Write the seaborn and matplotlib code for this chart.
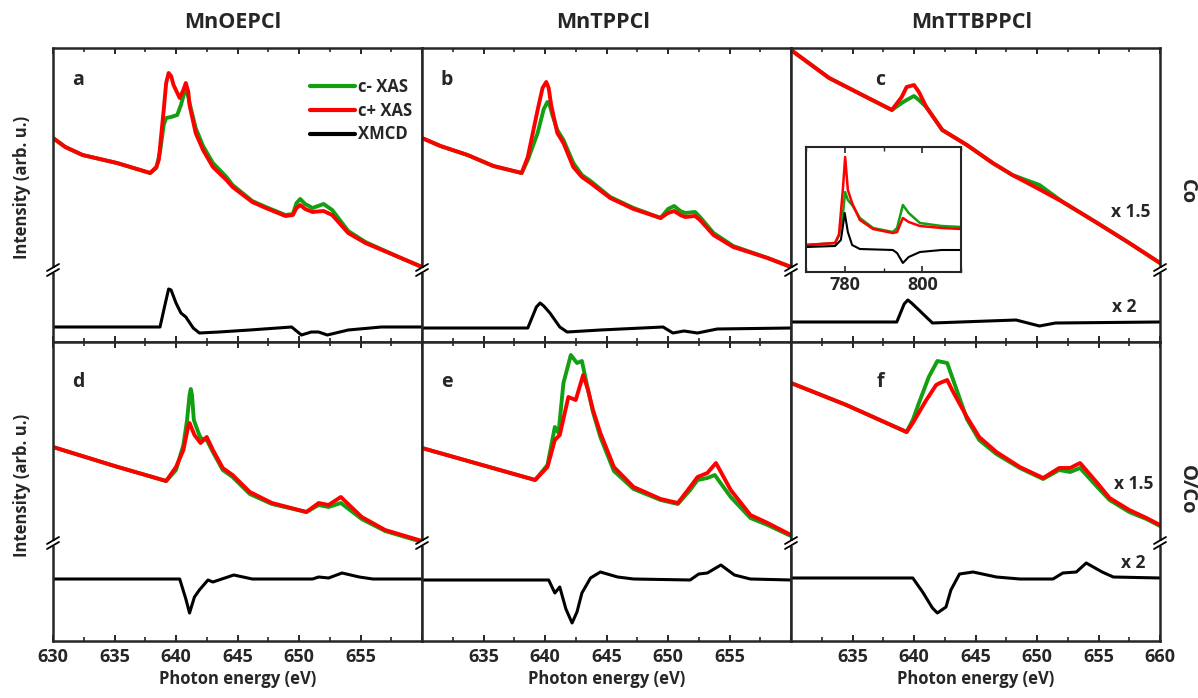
import numpy as np
import pandas as pd
import matplotlib
matplotlib.use("Agg")
import matplotlib.pyplot as plt
from matplotlib.ticker import MultipleLocator, FixedLocator
import seaborn as sns

sns.set_style("ticks")
plt.rcParams['font.family'] = ['Open Sans', 'DejaVu Sans']
plt.rcParams['font.weight'] = 'bold'

# ---------------- data (photon energy in eV, intensity in arb. u.) ----------------
columns = ["MnOEPCl", "MnTPPCl", "MnTTBPPCl"]
rows = ["Co", "O/Co"]
panel_letters = ["a", "b", "c", "d", "e", "f"]
legend_labels = ["c- XAS", "c+ XAS", "XMCD"]
tick_values = [630, 635, 640, 645, 650, 655, 660]

# panel a
a_green_e = [630.0, 631.0, 632.4, 635.2, 637.9, 638.4, 638.7, 639.0, 639.2, 639.6, 640.1, 640.4, 640.65, 640.8, 640.95, 641.1, 641.6, 642.2, 643.0, 644.1, 644.6, 646.2, 647.3, 648.9, 649.5, 649.8, 650.1, 650.5, 651.1, 652.0, 652.7, 654.0, 655.4, 658.1, 660.0]
a_green_i = [20.4, 19.5, 18.7, 17.9, 16.9, 17.4, 19.0, 21.7, 22.4, 22.5, 22.7, 23.7, 24.8, 25.2, 24.8, 23.9, 21.4, 19.6, 17.9, 16.5, 15.7, 14.1, 13.5, 12.7, 12.8, 13.9, 14.3, 13.8, 13.4, 13.8, 13.2, 11.1, 10.0, 8.5, 7.5]
a_red_e = [630.0, 631.0, 632.4, 635.2, 637.9, 638.4, 638.6, 639.0, 639.2, 639.4, 639.6, 639.8, 640.3, 640.6, 640.8, 641.0, 641.1, 641.6, 642.2, 643.0, 644.1, 644.6, 646.2, 647.3, 648.9, 649.5, 649.8, 650.1, 650.5, 651.1, 652.0, 652.7, 654.0, 655.4, 658.1, 660.0]
a_red_i = [20.4, 19.5, 18.7, 17.9, 16.9, 17.5, 18.2, 23.2, 25.9, 26.9, 26.6, 25.7, 24.4, 25.2, 25.9, 25.0, 23.7, 20.9, 19.2, 17.5, 16.2, 15.5, 14.0, 13.4, 12.6, 12.7, 13.4, 13.7, 13.3, 13.0, 13.1, 12.7, 10.9, 9.9, 8.5, 7.5]
a_xmcd_e = [630, 638.7, 639.1, 639.4, 639.6, 640.0, 640.4, 640.8, 641.4, 641.9, 643.5, 646.0, 649.4, 650.2, 651.0, 651.6, 652.3, 654.0, 656.7, 660]
a_xmcd_i = [1.5, 1.5, 3.7, 5.3, 5.2, 3.9, 2.9, 2.5, 1.4, 0.9, 1.0, 1.2, 1.5, 0.7, 1.0, 1.0, 0.7, 1.2, 1.5, 1.5]

# panel b
b_green_e = [630.0, 631.5, 633.7, 635.8, 638.1, 638.6, 639.4, 639.9, 640.2, 640.4, 640.6, 641.0, 641.5, 642.3, 643.0, 643.7, 645.3, 647.2, 649.4, 650.0, 650.5, 651.0, 651.4, 652.2, 652.6, 653.7, 655.3, 658.1, 660.0]
b_green_i = [20.4, 19.6, 18.7, 17.6, 16.9, 18.2, 20.9, 23.3, 24.0, 23.6, 22.7, 21.2, 20.2, 17.9, 16.7, 16.1, 14.5, 13.4, 12.4, 13.3, 13.6, 13.1, 12.9, 13.0, 12.5, 10.9, 9.6, 8.4, 7.5]
b_red_e = [630.0, 631.5, 633.7, 635.8, 638.1, 638.6, 639.4, 639.8, 640.1, 640.3, 640.5, 641.0, 641.5, 642.3, 643.0, 643.7, 645.3, 647.2, 649.4, 650.0, 650.5, 651.0, 651.4, 652.2, 652.6, 653.7, 655.3, 658.1, 660.0]
b_red_i = [20.4, 19.6, 18.7, 17.6, 16.9, 18.5, 23.2, 25.4, 26.0, 25.4, 23.7, 20.9, 19.9, 17.5, 16.5, 15.9, 14.4, 13.3, 12.4, 12.9, 13.1, 12.7, 12.5, 12.6, 12.2, 10.7, 9.5, 8.4, 7.5]
b_xmcd_e = [630, 638.6, 639.3, 639.6, 639.9, 640.4, 641.2, 641.8, 644.5, 649.6, 650.4, 651.3, 652.4, 654.0, 660]
b_xmcd_i = [1.4, 1.4, 3.5, 3.9, 3.6, 2.9, 1.5, 1.0, 1.2, 1.5, 0.9, 1.1, 0.9, 1.3, 1.4]

# panel c
c_green_e = [630.0, 633.1, 635.8, 638.2, 639.0, 639.4, 640.0, 640.4, 641.0, 642.3, 644.3, 646.4, 648.0, 650.2, 652.1, 654.9, 657.5, 660.0]
c_green_i = [29.2, 26.4, 24.7, 23.2, 23.9, 24.2, 24.6, 24.2, 23.5, 21.2, 19.7, 17.9, 16.7, 15.7, 14.0, 11.9, 9.9, 7.9]
c_red_e = [630.0, 633.1, 635.8, 638.2, 639.0, 639.4, 640.0, 640.4, 641.0, 642.3, 644.3, 646.4, 648.0, 650.0, 652.1, 654.9, 657.5, 660.0]
c_red_i = [29.2, 26.4, 24.7, 23.2, 24.5, 25.5, 25.7, 25.0, 23.5, 21.2, 19.7, 17.9, 16.7, 15.4, 14.0, 11.9, 9.9, 7.9]
c_xmcd_e = [630, 638.6, 639.2, 639.5, 639.8, 640.4, 641.5, 648.3, 650.2, 651.5, 660]
c_xmcd_i = [2.0, 2.0, 3.8, 4.2, 3.9, 3.2, 1.9, 2.2, 1.6, 1.9, 2.0]

# panel d
d_green_e = [630.0, 635.0, 639.2, 640.0, 640.6, 640.9, 641.1, 641.2, 641.3, 641.45, 641.8, 642.0, 642.5, 643.0, 643.8, 644.6, 646.0, 647.8, 650.6, 651.6, 652.4, 653.4, 655.1, 657.0, 660.0]
d_green_i = [19.4, 17.5, 16.0, 17.1, 19.6, 22.1, 24.6, 25.2, 24.6, 22.1, 20.9, 20.3, 20.1, 18.9, 17.1, 16.4, 14.7, 13.7, 12.9, 13.6, 13.4, 13.8, 12.2, 11.0, 9.9]
d_red_e = [630.0, 635.0, 639.2, 640.0, 640.6, 641.0, 641.1, 641.2, 641.5, 642.0, 642.5, 643.0, 643.8, 644.6, 646.0, 647.8, 650.6, 651.6, 652.4, 653.4, 655.1, 657.0, 660.0]
d_red_i = [19.4, 17.5, 16.0, 17.4, 19.1, 21.5, 21.8, 21.5, 20.6, 19.8, 20.4, 19.1, 17.3, 16.6, 14.9, 13.8, 12.9, 13.8, 13.6, 14.4, 12.4, 11.1, 10.0]
d_xmcd_e = [630, 640.3, 640.8, 641.1, 641.5, 641.9, 642.6, 643.0, 644.7, 646.2, 651.1, 651.6, 652.4, 653.5, 654.9, 656.0, 660]
d_xmcd_i = [6.2, 6.2, 4.2, 2.8, 4.4, 5.1, 6.1, 5.9, 6.6, 6.2, 6.2, 6.4, 6.3, 6.8, 6.4, 6.2, 6.2]

# panel e
e_green_e = [630.0, 639.2, 640.2, 640.8, 641.1, 641.5, 642.1, 642.6, 643.0, 643.5, 643.9, 644.5, 645.6, 647.2, 649.4, 650.8, 651.8, 652.4, 653.2, 653.8, 655.1, 656.7, 658.1, 660.0]
e_green_i = [19.3, 16.1, 17.6, 21.4, 20.8, 25.8, 28.6, 27.8, 28.0, 25.1, 22.9, 20.4, 17.0, 15.2, 14.1, 13.7, 15.1, 16.1, 16.3, 16.6, 14.4, 12.3, 11.6, 10.5]
e_red_e = [630.0, 639.2, 640.2, 640.8, 641.2, 641.9, 642.5, 643.1, 643.5, 643.9, 644.5, 645.6, 647.2, 649.4, 650.8, 651.8, 652.4, 653.2, 653.9, 655.1, 656.7, 658.1, 660.0]
e_red_i = [19.3, 16.1, 17.4, 20.1, 20.6, 24.4, 24.1, 26.6, 25.1, 23.1, 20.8, 17.4, 15.4, 14.2, 13.8, 15.4, 16.4, 16.8, 17.8, 15.1, 12.6, 11.8, 10.6]
e_xmcd_e = [630, 640.3, 640.8, 641.2, 641.7, 642.2, 642.6, 643.0, 643.7, 644.5, 645.9, 647.2, 651.8, 652.5, 653.2, 654.3, 655.4, 656.7, 660]
e_xmcd_i = [6.1, 6.1, 4.8, 5.4, 3.2, 1.8, 2.9, 4.8, 6.3, 6.9, 6.4, 6.2, 6.1, 6.7, 6.8, 7.6, 6.6, 6.2, 6.1]

# panel f
f_green_e = [630.0, 634.5, 639.4, 639.9, 640.4, 641.2, 641.9, 642.7, 643.1, 644.3, 645.3, 646.7, 648.6, 650.5, 651.8, 652.7, 653.5, 654.9, 655.9, 657.5, 658.9, 660.0]
f_green_i = [25.8, 23.6, 20.9, 22.1, 23.8, 26.4, 28.0, 27.8, 26.4, 22.2, 20.1, 18.7, 17.3, 16.2, 17.1, 16.9, 17.3, 15.4, 14.1, 12.9, 12.2, 11.5]
f_red_e = [630.0, 634.5, 639.4, 639.9, 641.0, 641.8, 642.1, 642.7, 643.1, 644.3, 645.3, 646.7, 648.6, 650.5, 651.8, 652.7, 653.5, 654.9, 655.9, 657.5, 658.9, 660.0]
f_red_i = [25.8, 23.6, 20.9, 21.8, 24.1, 25.6, 25.8, 26.1, 25.1, 22.4, 20.4, 18.9, 17.4, 16.3, 17.3, 17.3, 17.8, 15.8, 14.3, 13.1, 12.3, 11.6]
f_xmcd_e = [630, 639.9, 640.7, 641.5, 641.9, 642.6, 643.0, 643.7, 644.8, 646.7, 648.6, 651.3, 652.1, 653.2, 654.0, 655.3, 656.2, 660]
f_xmcd_i = [6.3, 6.3, 4.9, 3.3, 2.8, 3.4, 5.1, 6.7, 6.9, 6.4, 6.2, 6.2, 6.8, 6.9, 7.8, 6.9, 6.4, 6.3]

# inset (Co L edge)
inset_green_e = [770, 777.5, 778.5, 779.5, 780.1, 780.8, 781.9, 783.9, 787.3, 792.4, 793.5, 795.0, 796.5, 799.4, 805, 810]
inset_green_i = [2.7, 2.9, 3.7, 5.7, 8.0, 7.2, 6.7, 5.4, 4.4, 4.0, 4.4, 6.7, 5.9, 4.9, 4.6, 4.5]
inset_red_e = [770, 777.5, 778.5, 779.5, 780.1, 780.8, 781.9, 783.9, 787.3, 792.4, 793.5, 795.0, 796.5, 799.4, 805, 810]
inset_red_i = [2.7, 2.9, 3.7, 8.2, 11.5, 8.2, 6.9, 5.2, 4.3, 3.9, 4.0, 5.4, 5.0, 4.6, 4.4, 4.3]
inset_xmcd_e = [770, 777.5, 779.0, 780.0, 780.8, 781.9, 783.9, 792.4, 793.5, 795.0, 796.5, 799.4, 805, 810]
inset_xmcd_i = [2.5, 2.6, 3.2, 5.9, 4.0, 2.7, 2.3, 2.2, 1.9, 0.9, 1.5, 2.0, 2.2, 2.2]
inset_ticks = [780, 800]

scale_labels = [("x 1.5", "x 2"), ("x 1.5", "x 2")]

# ---------------- figure ----------------
W, H = 1198, 698
fig = plt.figure(figsize=(W / 100, H / 100), dpi=100)

GREEN = "#12a012"
RED = "#ff0000"
BLACK = "#000000"

col_left = [53, 422, 791]
col_w = 369
row_top = [48, 342]
row_bot = [342, 641]
row_ylim = [29.4, 29.9]
break_px = [270, 543]

panel_data = [
    (a_green_e, a_green_i, a_red_e, a_red_i, a_xmcd_e, a_xmcd_i),
    (b_green_e, b_green_i, b_red_e, b_red_i, b_xmcd_e, b_xmcd_i),
    (c_green_e, c_green_i, c_red_e, c_red_i, c_xmcd_e, c_xmcd_i),
    (d_green_e, d_green_i, d_red_e, d_red_i, d_xmcd_e, d_xmcd_i),
    (e_green_e, e_green_i, e_red_e, e_red_i, e_xmcd_e, e_xmcd_i),
    (f_green_e, f_green_i, f_red_e, f_red_i, f_xmcd_e, f_xmcd_i),
]

LKW = dict(sort=False, estimator=None, solid_joinstyle="round", solid_capstyle="round")


def draw_break(ax, yfrac, xfrac, w_px, h_px):
    dx = 6.0 / w_px
    dy = 3.5 / h_px
    gap = 5.0 / h_px
    ax.plot([xfrac, xfrac], [yfrac - gap / 2, yfrac + gap / 2], transform=ax.transAxes,
            color="white", lw=4, clip_on=False, zorder=6, solid_capstyle="butt")
    for off in (-gap / 2, gap / 2):
        ax.plot([xfrac - dx, xfrac + dx], [yfrac + off - dy, yfrac + off + dy],
                transform=ax.transAxes, color="black", lw=1.3, clip_on=False, zorder=7)


axes = []
for r in range(2):
    for c in range(3):
        k = r * 3 + c
        left = col_left[c] / W
        bottom = 1 - row_bot[r] / H
        height = (row_bot[r] - row_top[r]) / H
        ax = fig.add_axes([left, bottom, col_w / W, height])
        axes.append(ax)
        ge, gi, re_, ri, xe, xi = panel_data[k]
        lab = (k == 0)
        sns.lineplot(x=ge, y=gi, ax=ax, color=GREEN, lw=2.8,
                     label=legend_labels[0] if lab else None, legend=False, **LKW)
        sns.lineplot(x=re_, y=ri, ax=ax, color=RED, lw=2.8,
                     label=legend_labels[1] if lab else None, legend=False, **LKW)
        sns.lineplot(x=xe, y=xi, ax=ax, color=BLACK, lw=2.2,
                     label=legend_labels[2] if lab else None, legend=False, **LKW)
        ax.set_xlim(630, 660)
        ax.set_ylim(0, row_ylim[r])
        ax.set_yticks([])
        ax.set_xlabel("")
        ax.set_ylabel("")
        ax.xaxis.set_major_locator(FixedLocator(tick_values))
        ax.xaxis.set_minor_locator(MultipleLocator(2.5))
        ax.tick_params(axis="x", which="major", direction="in", top=True, bottom=True,
                       length=4.5, width=1.4, labelsize=13, pad=5)
        ax.tick_params(axis="x", which="minor", direction="in", top=True, bottom=True,
                       length=3, width=1.2)
        for sp in ax.spines.values():
            sp.set_linewidth(1.8)
        if r == 0:
            ax.tick_params(axis="x", labelbottom=False)
        else:
            if c == 0:
                shown = [v for v in tick_values if v != 660]
            elif c == 1:
                shown = [v for v in tick_values if v not in (630, 660)]
            else:
                shown = [v for v in tick_values if v != 630]
            ax.set_xticklabels([str(v) if v in shown else "" for v in tick_values],
                               fontweight="bold")
            ax.set_xlabel("Photon energy (eV)", fontsize=12, fontweight="bold", labelpad=3)
        h_px = row_bot[r] - row_top[r]
        yb = (row_bot[r] - break_px[r]) / h_px
        draw_break(ax, yb, 0.0, col_w, h_px)
        if c == 2:
            draw_break(ax, yb, 1.0, col_w, h_px)
        # panel letter
        lx = [78, 447, 880][c]
        ly = [80, 382][r]
        ax.text((lx - col_left[c]) / col_w, (row_bot[r] - ly) / h_px, panel_letters[k],
                transform=ax.transAxes, fontsize=14, fontweight="bold", ha="center", va="center")

# legend in panel a
leg = axes[0].legend(loc="upper left", bbox_to_anchor=(0.655, 0.95), frameon=False,
                     handlelength=2.7, handletextpad=0.2, labelspacing=0.35,
                     prop={"weight": "bold", "size": 12})
for ln in leg.get_lines():
    ln.set_linewidth(3)

# inset in panel c
axi = fig.add_axes([806 / W, 1 - 272 / H, 155 / W, 125 / H])
sns.lineplot(x=inset_green_e, y=inset_green_i, ax=axi, color=GREEN, lw=1.8, **LKW)
sns.lineplot(x=inset_red_e, y=inset_red_i, ax=axi, color=RED, lw=1.8, **LKW)
sns.lineplot(x=inset_xmcd_e, y=inset_xmcd_i, ax=axi, color=BLACK, lw=1.5, **LKW)
axi.set_xlim(770, 810)
axi.set_ylim(0, 12.5)
axi.set_yticks([])
axi.set_xlabel("")
axi.set_ylabel("")
axi.xaxis.set_major_locator(FixedLocator(inset_ticks))
axi.xaxis.set_minor_locator(MultipleLocator(10))
axi.tick_params(axis="x", which="major", direction="in", top=True, bottom=True, length=4,
                width=1.2, labelsize=13, pad=3)
axi.tick_params(axis="x", which="minor", direction="in", top=True, bottom=True, length=3, width=1.0)
axi.set_xticklabels([str(v) for v in inset_ticks], fontweight="bold")
for sp in axi.spines.values():
    sp.set_linewidth(1.5)

# column titles
for c, name in enumerate(columns):
    fig.text([233, 603, 972][c] / W, 1 - 23 / H, name, ha="center", va="center",
             fontsize=15.5, fontweight="bold")

# y labels
for yc in (187, 485):
    fig.text(22 / W, 1 - yc / H, "Intensity (arb. u.)", rotation=90, ha="center", va="center",
             fontsize=12, fontweight="bold")

# row labels on right
for r, name in enumerate(rows):
    fig.text(1187 / W, 1 - [192, 490][r] / H, name, rotation=270, ha="center", va="center",
             fontsize=14.5, fontweight="bold")

# scale labels
for (x, y, t) in [(1131, 212, scale_labels[0][0]), (1124, 307, scale_labels[0][1]),
                  (1134, 484, scale_labels[1][0]), (1133, 563, scale_labels[1][1])]:
    fig.text(x / W, 1 - y / H, t, ha="center", va="center", fontsize=12.5, fontweight="bold")

fig.savefig("out.png", dpi=100)
